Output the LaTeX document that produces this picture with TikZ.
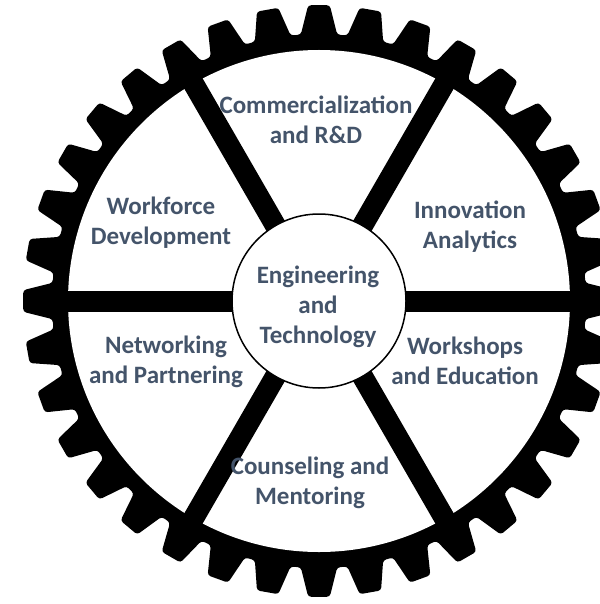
\documentclass[tikz,border=0pt]{standalone}
\usepackage{fontspec}
\setmainfont{Carlito}
\definecolor{txt}{HTML}{44546A}
\tikzset{
  lbl/.style={text=txt, font=\fontsize{25}{30}\selectfont\bfseries, align=center, inner sep=0pt},
  spokeline/.style={line width=21pt, black},
}
\begin{document}
\begin{tikzpicture}[x=1pt,y=-1pt]
\useasboundingbox (0,0) rectangle (599,604);
\fill[white] (0,0) rectangle (599,604);
\begin{scope}[shift={(319,301)}]
  \fill[black, rounded corners=3pt] ({-5}:267)
    \foreach \a in {0,10,...,350}{ -- ({\a-3.9}:267) -- ({\a-2.1}:296) -- ({\a+2.1}:296) -- ({\a+3.9}:267)} -- cycle;
  \fill[white] (0,0) circle (251);
  \foreach \a in {0,60,120} \draw[spokeline] (\a:258) -- ({\a+180}:258);
  \node[circle, draw=black, line width=1.5pt, fill=white, minimum size=174pt, inner sep=0pt] (hub) at (0,0) {};
\end{scope}
\node[lbl] (eng) at (318,307) {Engineering\\and\\Technology};
\node[lbl] (comm) at (316,120) {Commercialization\\and R\&D};
\node[lbl] (innov) at (470,227) {Innovation\\Analytics};
\node[lbl] (work) at (161,223) {Workforce\\Development};
\node[lbl] (netw) at (166,362) {Networking\\and Partnering};
\node[lbl] (wksh) at (465,361) {Workshops\\and Education};
\node[lbl] (couns) at (310,483) {Counseling and\\Mentoring};
\end{tikzpicture}
\end{document}
